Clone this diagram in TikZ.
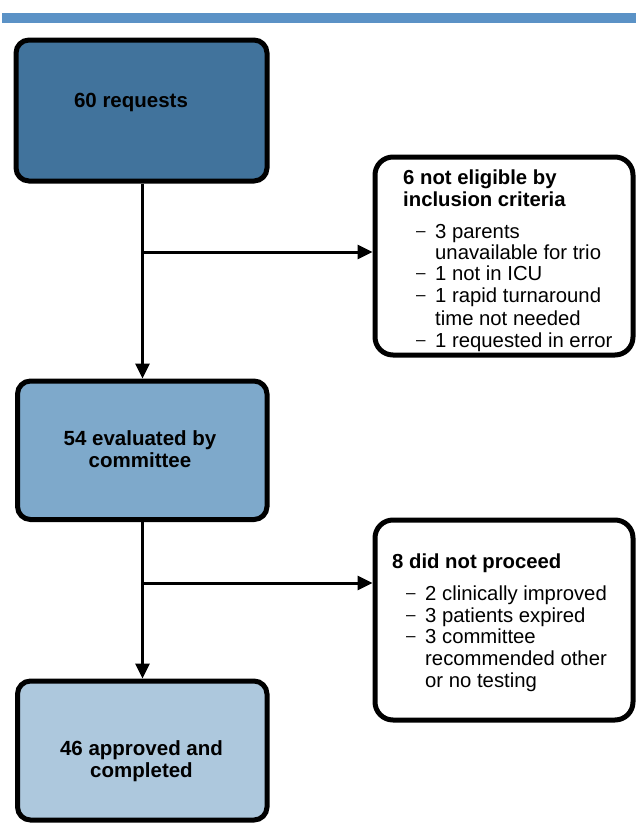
\documentclass[tikz,border=0pt]{standalone}
\usepackage{fontspec}
\setmainfont{Liberation Sans}
\usetikzlibrary{arrows.meta}
\definecolor{barblue}{RGB}{91,146,198}
\definecolor{darkbox}{RGB}{65,115,156}
\definecolor{midbox}{RGB}{126,169,203}
\definecolor{lightbox}{RGB}{173,200,221}
\tikzset{
  mainbox/.style={draw=black, line width=5pt, rounded corners=13pt, minimum width=250pt, inner sep=0pt},
  sidebox/.style={draw=black, line width=5pt, rounded corners=18pt, fill=white, minimum width=258pt, inner sep=0pt},
  boxtext/.style={font=\bfseries\fontsize{20.5}{21.5}\selectfont, align=center, inner sep=0pt},
  headtext/.style={font=\bfseries\fontsize{20.3}{21.5}\selectfont, anchor=base west, inner sep=0pt},
  itemtext/.style={font=\fontsize{20.3}{21.5}\selectfont, anchor=base west, inner sep=0pt},
  dashtext/.style={font=\fontsize{17}{20}\selectfont, anchor=base west, inner sep=0pt, yshift=2pt},
  conn/.style={draw=black, line width=3pt, -{Triangle[length=15pt,width=14pt]}},
  plainconn/.style={draw=black, line width=3pt}
}
\begin{document}
\begin{tikzpicture}[x=1pt,y=-1pt]
\useasboundingbox (0,0) rectangle (635,827);
\fill[barblue] (2,13) rectangle (640,22.5);
% main boxes
\node[mainbox, fill=darkbox, minimum width=251pt, minimum height=141pt] (b1) at (141.5,110.5) {};
\node[mainbox, fill=midbox, minimum width=249.5pt, minimum height=138.5pt] (b2) at (142.25,450.25) {};
\node[mainbox, fill=lightbox, minimum width=249.5pt, minimum height=139pt] (b3) at (142.25,750.5) {};
\node[boxtext] (t1) at (131,102) {60 requests};
\node[boxtext] (t2) at (140,449) {54 evaluated by\\committee};
\node[boxtext] (t3) at (141.5,761) {46 approved and\\completed};
% side boxes
\node[sidebox, minimum height=198pt] (s1) at (504,256) {};
\node[sidebox, minimum height=200pt] (s2) at (504,620) {};
% side box 1 text
\node[headtext] (h1a) at (403,184.5) {6 not eligible by};
\node[headtext] (h1b) at (403,206) {inclusion criteria};
\node[dashtext] (d1a) at (416,238.5) {–};
\node[itemtext] (i1a) at (435,238.5) {3 parents};
\node[itemtext] (i1b) at (435,259.5) {unavailable for trio};
\node[dashtext] (d1c) at (416,280.5) {–};
\node[itemtext] (i1c) at (435,280.5) {1 not in ICU};
\node[dashtext] (d1d) at (416,302) {–};
\node[itemtext] (i1d) at (435,302) {1 rapid turnaround};
\node[itemtext] (i1e) at (435,325) {time not needed};
\node[dashtext] (d1f) at (416,347) {–};
\node[itemtext] (i1f) at (435,347) {1 requested in error};
% side box 2 text
\node[headtext] (h2a) at (392,568) {8 did not proceed};
\node[dashtext] (d2a) at (406,600) {–};
\node[itemtext] (i2a) at (425,600) {2 clinically improved};
\node[dashtext] (d2b) at (406,622) {–};
\node[itemtext] (i2b) at (425,622) {3 patients expired};
\node[dashtext] (d2c) at (406,643.5) {–};
\node[itemtext] (i2c) at (425,643.5) {3 committee};
\node[itemtext] (i2d) at (425,665.5) {recommended other};
\node[itemtext] (i2e) at (425,687.5) {or no testing};
% connectors
\coordinate (j1) at (142.5,252);
\coordinate (j2) at (142.5,583);
\draw[conn] (b1.south -| j1) -- (b2.north -| j1);
\draw[conn] (j1) -- (j1 -| s1.west);
\draw[conn] (b2.south -| j2) -- (b3.north -| j2);
\draw[conn] (j2) -- (j2 -| s2.west);
\end{tikzpicture}
\end{document}
